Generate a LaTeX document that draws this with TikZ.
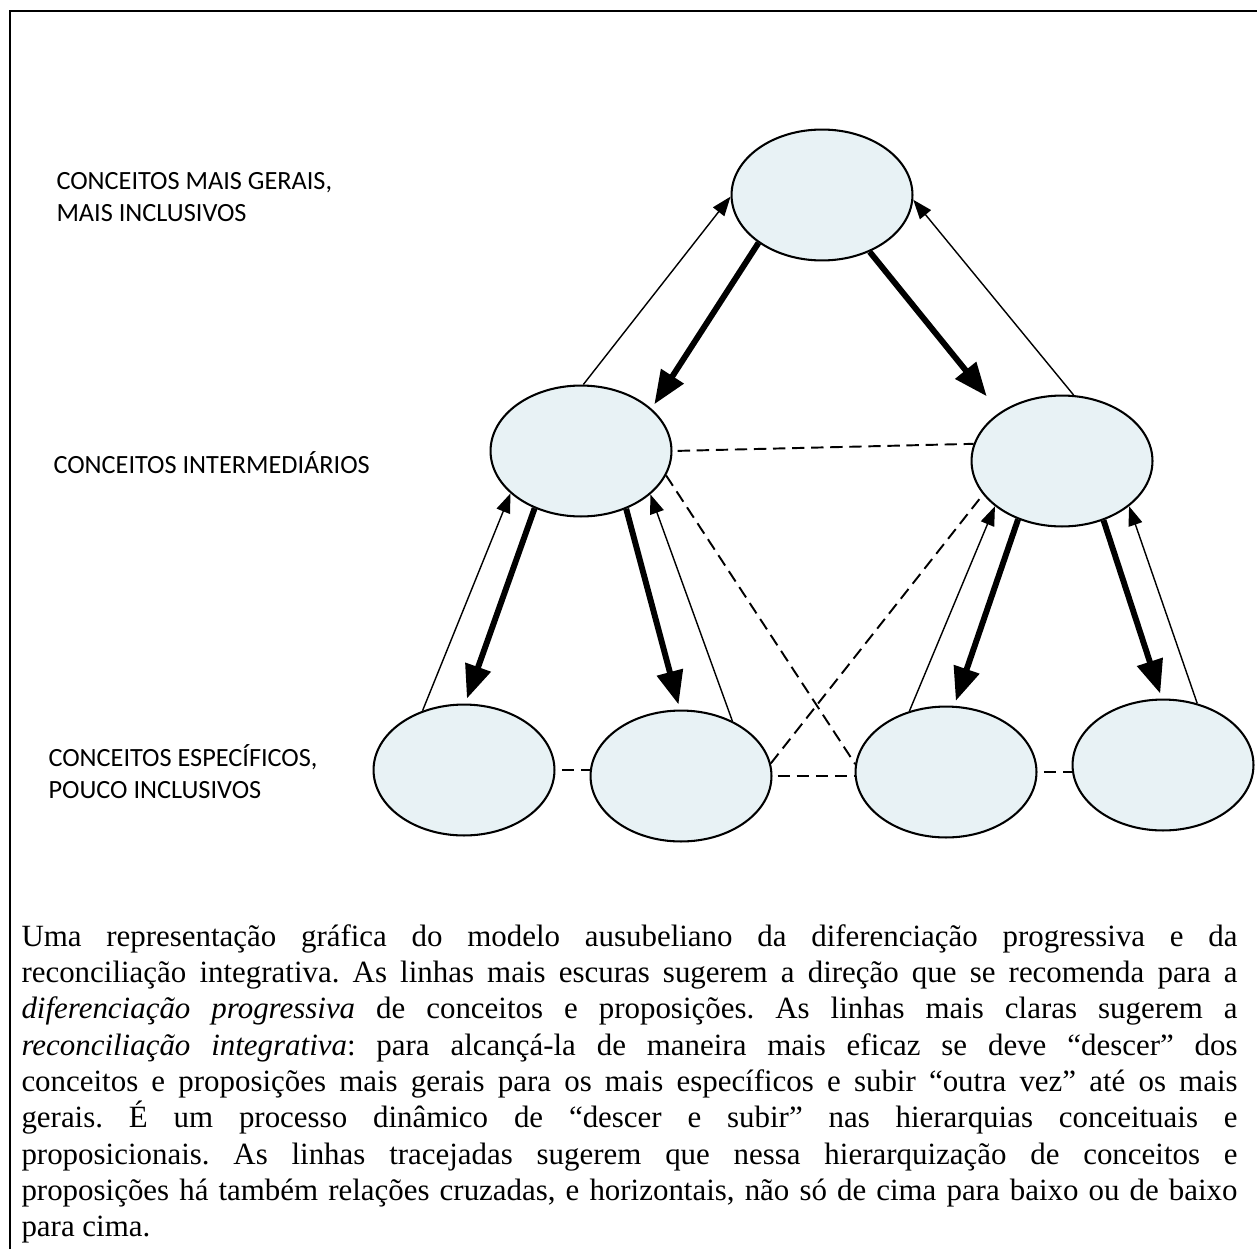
\documentclass[tikz,border=0pt]{standalone}
\usepackage{fontspec}
\setmainfont{Liberation Serif}
\newfontfamily\rotulofont{Carlito}
\usepackage{xcolor}
\usepackage{tikz}
\usetikzlibrary{shapes, arrows.meta}
\definecolor{elipsecor}{HTML}{E8F2F5}
\tikzstyle{conceito} = [draw, ellipse, line width=0.8pt, fill=elipsecor, minimum width=70.2pt, minimum height=50.8pt, inner sep=0pt]
\tikzstyle{rotulo} = [font=\rotulofont\fontsize{10.2}{12.4}\selectfont, align=left, inner sep=0pt]
\tikzstyle{desce} = [line width=2.3pt, shorten >=2pt, -{Triangle[length=13pt, width=10pt]}]
\tikzstyle{sobe} = [line width=0.55pt, -{Triangle[length=7.5pt, width=5.5pt]}]
\tikzstyle{cruza} = [line width=0.75pt, dash pattern=on 4.8pt off 2.6pt]

\begin{document}
\frenchspacing
\begin{tikzpicture}[x=0.388pt, y=-0.388pt]
        \useasboundingbox (0,0) rectangle (1257,1249);
        % 边框
        \draw [line width=1.15pt] (10,1249) -- (10,11) -- (1257,11);

        % 椭圆节点
        \node [conceito] (topo) at (822,195) {};
        \node [conceito] (ml) at (581,451) {};
        \node [conceito] (mr) at (1062,461) {};
        \node [conceito] (b1) at (464,770) {};
        \node [conceito] (b2) at (681,776) {};
        \node [conceito] (b3) at (946,772) {};
        \node [conceito] (b4) at (1163,765) {};

        % 左侧说明
        \node [rotulo, anchor=north west] (geral) at (56,172) {CONCEITOS MAIS GERAIS,\\MAIS INCLUSIVOS};
        \node [rotulo, anchor=base west] (inter) at (53,473) {CONCEITOS INTERMEDIÁRIOS};
        \node [rotulo, anchor=base west] (espec) at (48,798) {CONCEITOS ESPECÍFICOS,\\POUCO INCLUSIVOS};

        % 粗箭头：向下
        \draw [desce] (topo.217) -- (ml.31);
        \draw [desce, shorten >=8pt] (topo.310) -- (mr.142);
        \draw [desce] (ml.231) -- (b1.89);
        \draw [desce] (ml.308) -- (b2.91);
        \draw [desce] (mr.233) -- (b3.83);
        \draw [desce] (mr.305) -- (b4.91);

        % 细箭头：向上
        \draw [sobe] (ml.88) -- (topo.181);
        \draw [sobe] (mr.80) -- (topo.357);
        \draw [sobe] (b1.125) -- (ml.211);
        \draw [sobe] (b2.47) -- (ml.328);
        \draw [sobe] (b3.121) -- (mr.214);
        \draw [sobe] (b4.61) -- (mr.326);

        % 虚线：交叉与水平关系
        \draw [cruza, shorten <=2pt] (ml.0) -- (mr.169);
        \draw [cruza] (ml.344) -- (b3.175);
        \draw [cruza] (b2.8) -- (mr.203);
        \draw [cruza, shorten <=2.5pt] (b1.east) -- (b1.east -| b2.west);
        \draw [cruza, shorten <=2pt] (b2.east) -- (b2.east -| b3.west);
        \draw [cruza, shorten <=2.5pt] (b3.east) -- (b3.east -| b4.west);

        % 图注
        \node [anchor=base west, inner sep=0pt, text width=471.8pt, align=justify, font=\fontsize{12}{14.1}\selectfont] (nota) at (21,946)
        {Uma representação gráfica do modelo ausubeliano da diferenciação progressiva e da\linebreak
        reconciliação integrativa. As linhas mais escuras sugerem a direção que se recomenda para a\linebreak
        \textit{diferenciação progressiva} de conceitos e proposições. As linhas mais claras sugerem a\linebreak
        \textit{reconciliação integrativa}: para alcançá-la de maneira mais eficaz se deve “descer” dos\linebreak
        conceitos e proposições mais gerais para os mais específicos e subir “outra vez” até os mais\linebreak
        gerais. É um processo dinâmico de “descer e subir” nas hierarquias conceituais e\linebreak
        proposicionais. As linhas tracejadas sugerem que nessa hierarquização de conceitos e\linebreak
        proposições há também relações cruzadas, e horizontais, não só de cima para baixo ou de baixo\linebreak
        para cima.};
    \end{tikzpicture}
\end{document}
